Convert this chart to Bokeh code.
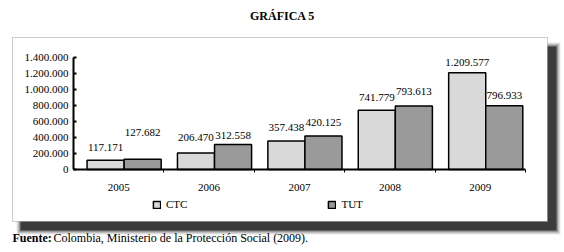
from bokeh.plotting import figure
from bokeh.models import (Range1d, Label, BoxAnnotation, Legend, LegendItem,
                          ColumnDataSource, FixedTicker, LinearAxis)
from bokeh.transform import dodge
from bokeh.core.properties import value
from bokeh.embed import file_html
from bokeh.resources import INLINE

# ---- data ----
years = ["2005", "2006", "2007", "2008", "2009"]
ctc = [117171, 206470, 357438, 741779, 1209577]
tut = [127682, 312558, 420125, 793613, 796933]
y_ticks = [0, 200000, 400000, 600000, 800000, 1000000, 1200000, 1400000]
series_names = ["CTC", "TUT"]
title_text = "GRÁFICA 5"
source_bold = "Fuente:"
source_text = "Colombia, Ministerio de la Protección Social (2009)."

# label nudges (pixels, layout only)
ctc_dy = [-13, -15, -13, -13, -10]
tut_dy = [-27, -9, -13, -15, -10]

FONT = "Liberation Serif"
W, H = 564, 252
# plot-area placement in pixels
AX_L, AX_R, AX_B, AX_T = 73, 525, 169, 57
YMAX = 1400000
NCAT = len(years)


def fmt(v):
    return f"{v:,}".replace(",", ".")


pos = [i + 0.5 for i in range(NCAT)]
src = ColumnDataSource(dict(
    pos=pos, ctc=ctc, tut=tut,
    ctc_lbl=[fmt(v) for v in ctc], tut_lbl=[fmt(v) for v in tut],
    ctc_dy=ctc_dy, tut_dy=tut_dy,
))

# ranges so that the axes land at the wanted pixels while the frame fills the canvas
xpp = NCAT / (AX_R - AX_L)
ypp = YMAX / (AX_B - AX_T)
x_range = Range1d(-AX_L * xpp, NCAT + (W - AX_R) * xpp)
y_range = Range1d(-(H - AX_B) * ypp, YMAX + AX_T * ypp)

p = figure(width=W, height=H, output_backend="svg", toolbar_location=None,
           x_range=x_range, y_range=y_range,
           x_axis_location=None, y_axis_location=None,
           min_border=0, min_border_left=0, min_border_right=0,
           min_border_top=0, min_border_bottom=0,
           background_fill_color="white", border_fill_color="white")
p.outline_line_color = None
p.grid.grid_line_color = None

# ---- frame box with shadow (screen units, y from bottom) ----
for grow, alpha in [(4, 0.10), (3, 0.15), (2, 0.2), (1, 0.3), (0, 0.8)]:
    p.add_layout(BoxAnnotation(left=20 - grow, right=556 + grow,
                               top=H - 46 + grow, bottom=H - 230 - grow,
                               left_units="screen", right_units="screen",
                               top_units="screen", bottom_units="screen",
                               fill_color="#2a2a2a", fill_alpha=alpha, line_color=None,
                               level="underlay"))
p.add_layout(BoxAnnotation(left=12, right=547, top=H - 37, bottom=H - 221,
                           left_units="screen", right_units="screen",
                           top_units="screen", bottom_units="screen",
                           fill_color="white", fill_alpha=1, line_color="#555555",
                           line_width=1, level="underlay"))

BW = 0.41
r_ctc = p.vbar(x=dodge("pos", -0.145), top="ctc", width=BW, source=src,
               fill_color="#d9d9d9", line_color="black", line_width=1.5)
r_tut = p.vbar(x=dodge("pos", 0.265), top="tut", width=BW, source=src,
               fill_color="#9a9a9a", line_color="black", line_width=1.5)

p.text(x=dodge("pos", -0.145), y="ctc", text="ctc_lbl", y_offset="ctc_dy",
       source=src, text_align="center", text_baseline="middle",
       text_font=value(FONT), text_font_size="11px", text_color="black")
p.text(x=dodge("pos", 0.265), y="tut", text="tut_lbl", y_offset="tut_dy",
       source=src, text_align="center", text_baseline="middle",
       text_font=value(FONT), text_font_size="11px", text_color="black")

# ---- axes (fixed inside the frame) ----
ya = LinearAxis(fixed_location=0, bounds=(0, YMAX),
                ticker=FixedTicker(ticks=y_ticks, minor_ticks=[]),
                major_label_overrides={t: fmt(t) for t in y_ticks})
ya.major_label_text_font = FONT
ya.major_label_text_font_size = "11px"
ya.major_label_text_color = "black"
ya.axis_line_width = 2
ya.axis_line_color = "black"
ya.major_tick_in = 3
ya.major_tick_out = 0
ya.major_tick_line_width = 2
ya.minor_tick_line_color = None
ya.major_label_standoff = 5
p.add_layout(ya, "left")

xa = LinearAxis(fixed_location=0, bounds=(0, NCAT),
                ticker=FixedTicker(ticks=pos, minor_ticks=list(range(1, NCAT + 1))),
                major_label_overrides={x: y for x, y in zip(pos, years)})
xa.axis_line_width = 2
xa.axis_line_color = "black"
xa.major_tick_line_color = None
xa.major_tick_in = 0
xa.major_tick_out = 0
xa.minor_tick_in = 0
xa.minor_tick_out = 3
xa.minor_tick_line_color = "black"
xa.minor_tick_line_width = 1
xa.major_label_standoff = 11
xa.major_label_text_font = FONT
xa.major_label_text_font_size = "11px"
xa.major_label_text_color = "black"
p.add_layout(xa, "below")

# ---- legend ----
leg = Legend(items=[LegendItem(label=series_names[0], renderers=[r_ctc]),
                    LegendItem(label=series_names[1], renderers=[r_tut])],
             orientation="horizontal", location=(152, H - 210),
             glyph_width=9, glyph_height=9, label_standoff=5, spacing=140,
             padding=0, margin=0, border_line_color=None, background_fill_alpha=0,
             label_text_font=FONT, label_text_font_size="11px", label_text_color="black",
             label_height=9)
p.add_layout(leg, "center")

# ---- title and source ----
p.add_layout(Label(x=282, y=H - 15, x_units="screen", y_units="screen", text=title_text,
                   text_align="center", text_baseline="middle", text_font=FONT,
                   text_font_style="bold", text_font_size="12px", text_color="black"))
p.add_layout(Label(x=12, y=H - 237, x_units="screen", y_units="screen", text=source_bold,
                   text_align="left", text_baseline="middle", text_font=FONT,
                   text_font_style="bold", text_font_size="12px", text_color="black"))
p.add_layout(Label(x=53, y=H - 237, x_units="screen", y_units="screen", text=source_text,
                   text_align="left", text_baseline="middle", text_font=FONT,
                   text_font_size="12px", text_color="black"))

open("out.html", "w").write(file_html(p, INLINE))
